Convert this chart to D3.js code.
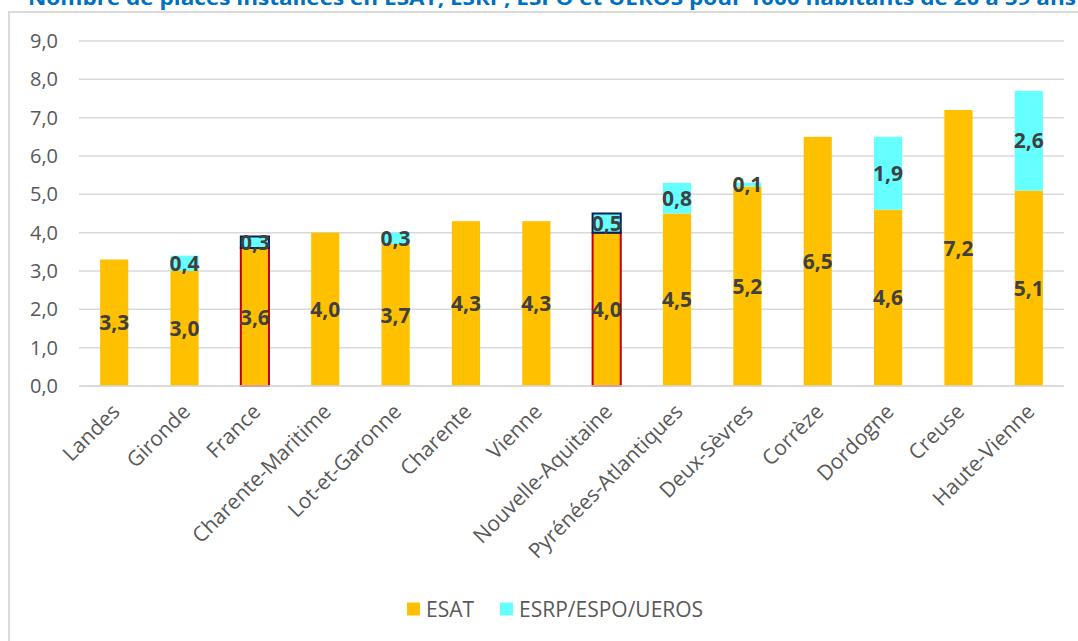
<!DOCTYPE html>
<html>
<head>
<meta charset="utf-8">
<script src="https://cdn.jsdelivr.net/npm/d3@7"></script>
<style>
  body { margin: 0; background: #fff; }
  svg { display: block; font-family: "Open Sans", "Noto Sans", sans-serif; }
</style>
</head>
<body>
<div id="graphicContainer"></div>
<script>
var territoires = ["Landes", "Gironde", "France", "Charente-Maritime", "Lot-et-Garonne", "Charente", "Vienne",
  "Nouvelle-Aquitaine", "Pyrénées-Atlantiques", "Deux-Sèvres", "Corrèze", "Dordogne", "Creuse", "Haute-Vienne"]
var esat = [3.3, 3.0, 3.6, 4.0, 3.7, 4.3, 4.3, 4.0, 4.5, 5.2, 6.5, 4.6, 7.2, 5.1]
var esrp = [0, 0.4, 0.3, 0, 0.3, 0, 0, 0.5, 0.8, 0.1, 0, 1.9, 0, 2.6]
var yTicks = [0, 1, 2, 3, 4, 5, 6, 7, 8, 9]
var highlighted = ["France", "Nouvelle-Aquitaine"]
var seriesNames = ["ESAT", "ESRP/ESPO/UEROS"]
var titre = "Nombre de places installées en ESAT, ESRP, ESPO et UEROS pour 1000 habitants de 20 à 59 ans"

var width = 1078, height = 641
var margin = { top: 41, right: 14, bottom: 255, left: 79 }
var colors = { ESAT: "#FFC000", ESRP: "#66FFFF" }
var fmt = d => d3.format(".1f")(d).replace(".", ",")

var svg = d3.select("#graphicContainer").append("svg")
  .attr("width", width).attr("height", height)

// cadre du graphique
svg.append("rect")
  .attr("x", 9).attr("y", 12)
  .attr("width", width + 20).attr("height", height + 20)
  .attr("fill", "none").attr("stroke", "#d9d9d9").attr("stroke-width", 2)

// titre, coupé en haut comme dans l'original
svg.append("text")
  .attr("x", 28).attr("y", 5)
  .attr("textLength", 1048).attr("lengthAdjust", "spacingAndGlyphs")
  .attr("fill", "#0070C0").attr("font-weight", "bold").attr("font-size", 20)
  .text(titre)

var plotW = width - margin.left - margin.right
var plotH = height - margin.top - margin.bottom
var g = svg.append("g").attr("transform", "translate(" + margin.left + "," + margin.top + ")")

var x = d3.scaleBand().domain(territoires).range([0, plotW]).paddingInner(0.6).paddingOuter(0.3)
var y = d3.scaleLinear().domain([0, 9]).range([plotH, 0])

// grille
g.append("g").selectAll("line").data(yTicks).join("line")
  .attr("x1", 0).attr("x2", plotW)
  .attr("y1", d => y(d)).attr("y2", d => y(d))
  .attr("stroke", "#d9d9d9").attr("stroke-width", 1.5)

var yAxis = d3.axisLeft(y).tickValues(yTicks).tickFormat(fmt).tickSize(0).tickPadding(21)
g.append("g").call(yAxis)
  .call(s => s.select(".domain").remove())
  .selectAll("text").attr("fill", "#595959").attr("font-size", 20)
  .attr("font-family", "Open Sans, sans-serif")

var data = territoires.map((t, i) => ({ name: t, esat: esat[i], esrp: esrp[i] }))

var bars = g.append("g").selectAll("g").data(data).join("g")

bars.append("rect")
  .attr("x", d => x(d.name)).attr("width", x.bandwidth())
  .attr("y", d => y(d.esat)).attr("height", d => y(0) - y(d.esat))
  .attr("fill", colors.ESAT)
  .attr("stroke", d => highlighted.includes(d.name) ? "#C00000" : "none")
  .attr("stroke-width", 2)

bars.filter(d => d.esrp > 0).append("rect")
  .attr("x", d => x(d.name)).attr("width", x.bandwidth())
  .attr("y", d => y(d.esat + d.esrp)).attr("height", d => y(d.esat) - y(d.esat + d.esrp))
  .attr("fill", colors.ESRP)
  .attr("stroke", d => highlighted.includes(d.name) ? "#002060" : "none")
  .attr("stroke-width", 2)

// étiquettes de données
bars.append("text")
  .attr("x", d => x(d.name) + x.bandwidth() / 2)
  .attr("y", d => y(d.esat / 2))
  .attr("dy", "0.36em")
  .attr("text-anchor", "middle")
  .attr("font-size", 21).attr("font-weight", "bold").attr("fill", "#404040")
  .text(d => fmt(d.esat))

bars.filter(d => d.esrp > 0).append("text")
  .attr("x", d => x(d.name) + x.bandwidth() / 2)
  .attr("y", d => y(d.esat + d.esrp / 2))
  .attr("dy", "0.36em")
  .attr("text-anchor", "middle")
  .attr("font-size", 21).attr("font-weight", "bold").attr("fill", "#404040")
  .text(d => fmt(d.esrp))

// axe des abscisses
var xAxis = g.append("g").attr("transform", "translate(0," + plotH + ")")
xAxis.append("line").attr("x1", 0).attr("x2", plotW)
  .attr("stroke", "#d9d9d9").attr("stroke-width", 1.5)
xAxis.selectAll("text").data(territoires).join("text")
  .attr("transform", d => "translate(" + (x(d) + x.bandwidth() / 2 + 7) + ",27) rotate(-45)")
  .attr("text-anchor", "end")
  .attr("font-size", 21).attr("fill", "#595959")
  .text(d => d)

// légende
var legend = svg.append("g").attr("transform", "translate(407,609)")
var items = [{ name: seriesNames[0], color: colors.ESAT, x: 0 }, { name: seriesNames[1], color: colors.ESRP, x: 93 }]
var li = legend.selectAll("g").data(items).join("g").attr("transform", d => "translate(" + d.x + ",0)")
li.append("rect").attr("x", 0).attr("y", -6.5).attr("width", 13).attr("height", 13).attr("fill", d => d.color)
li.append("text").attr("x", 19).attr("dy", "0.36em").attr("font-size", 21).attr("fill", "#595959").text(d => d.name)
</script>
</body>
</html>
